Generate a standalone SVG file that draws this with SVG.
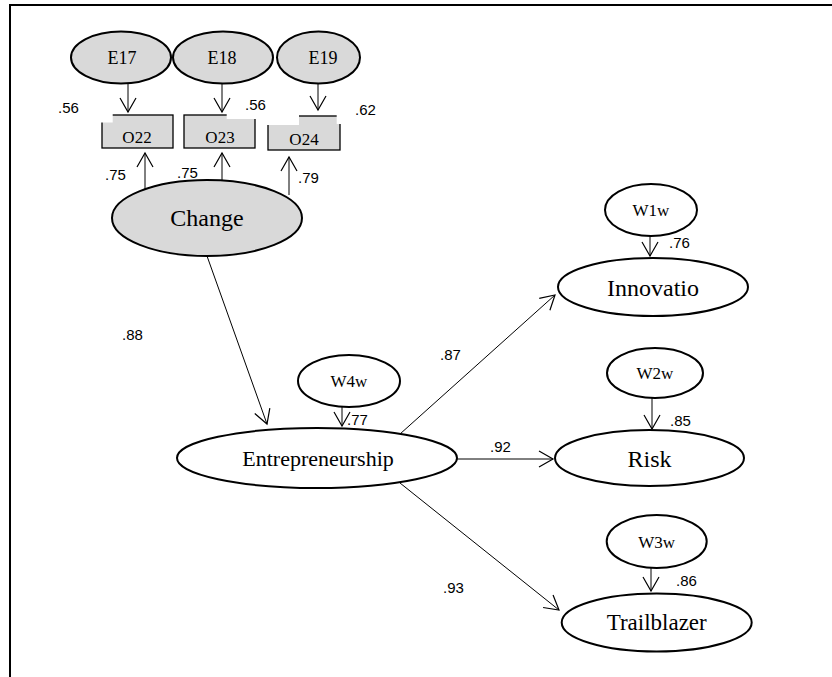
<svg xmlns="http://www.w3.org/2000/svg" width="832" height="677" viewBox="0 0 832 677">
<defs>
<marker id="ah" markerUnits="userSpaceOnUse" markerWidth="18" markerHeight="18" refX="15" refY="8" orient="auto" overflow="visible">
<path d="M1,0 L15,8 L1,16" fill="none" stroke="#000" stroke-width="1.2"/>
</marker>
<style>
.lat{fill:#d9d9d9;stroke:#000;stroke-width:2}
.wht{fill:#fff;stroke:#000;stroke-width:2}
.box{fill:#d9d9d9;stroke:#000;stroke-width:1.3}
.t{font-family:"Liberation Serif","Times New Roman",serif;fill:#000;text-anchor:middle}
.n{font-family:"Liberation Sans",Arial,sans-serif;font-size:15px;fill:#000}
.c{stroke:#000;stroke-width:1;fill:none;marker-end:url(#ah)}
</style>
</defs>
<rect width="832" height="677" fill="#fff"/>
<path d="M10,677 V5 H832" fill="none" stroke="#000" stroke-width="2"/>

<g id="connectors">
<line class="c" x1="128" y1="83" x2="128" y2="112"/>
<line class="c" x1="222" y1="84" x2="222" y2="112"/>
<line class="c" x1="318" y1="83" x2="318" y2="110"/>
<line class="c" x1="145" y1="190" x2="145" y2="153"/>
<line class="c" x1="222" y1="181" x2="222" y2="153"/>
<line class="c" x1="289" y1="195" x2="289" y2="157"/>
<line class="c" x1="207" y1="256" x2="267" y2="424"/>
<line class="c" x1="342" y1="407" x2="342" y2="426"/>
<line class="c" x1="400" y1="434" x2="555" y2="295"/>
<line class="c" x1="457" y1="459" x2="553" y2="459"/>
<line class="c" x1="400" y1="483" x2="559" y2="610"/>
<line class="c" x1="650" y1="236" x2="650" y2="256"/>
<line class="c" x1="652" y1="398" x2="652" y2="429"/>
<line class="c" x1="651" y1="568" x2="651" y2="591"/>
</g>

<g id="E17"><ellipse class="lat" cx="121" cy="57.5" rx="50" ry="26"/><text class="t" x="122" y="64" font-size="18">E17</text></g>
<g id="E18"><ellipse class="lat" cx="223" cy="57.5" rx="50" ry="26"/><text class="t" x="222" y="64" font-size="18">E18</text></g>
<g id="E19"><ellipse class="lat" cx="318.5" cy="57.5" rx="41.5" ry="26"/><text class="t" x="323" y="64" font-size="18">E19</text></g>

<g id="O22"><rect class="box" x="102" y="115" width="71" height="33"/><rect x="100" y="113" width="12.7" height="9.5" fill="#fff"/><text class="t" x="137" y="143" font-size="17">O22</text></g>
<g id="O23"><rect class="box" x="184" y="115" width="71" height="33"/><rect x="226.7" y="113" width="30" height="6" fill="#fff"/><text class="t" x="220" y="143" font-size="17">O23</text></g>
<g id="O24"><rect class="box" x="268" y="116" width="72" height="34"/><rect x="266" y="114" width="33" height="11" fill="#fff"/><rect x="336.7" y="114" width="5" height="10" fill="#fff"/><text class="t" x="304" y="145" font-size="17">O24</text></g>

<g id="Change"><ellipse class="lat" cx="207" cy="218" rx="95" ry="38"/><text class="t" x="207" y="226" font-size="24">Change</text></g>
<g id="W4w"><ellipse class="wht" cx="349" cy="381" rx="51" ry="26"/><text class="t" x="349" y="387" font-size="17">W4w</text></g>
<g id="Entrepreneurship"><ellipse class="wht" cx="317" cy="458" rx="140" ry="30"/><text class="t" x="318" y="466" font-size="22">Entrepreneurship</text></g>
<g id="W1w"><ellipse class="wht" cx="651" cy="210" rx="46" ry="26"/><text class="t" x="651" y="216" font-size="17">W1w</text></g>
<g id="Innovatio"><ellipse class="wht" cx="653" cy="287" rx="95" ry="29"/><text class="t" x="653" y="296" font-size="24">Innovatio</text></g>
<g id="W2w"><ellipse class="wht" cx="655" cy="373" rx="48" ry="25"/><text class="t" x="655" y="379" font-size="17">W2w</text></g>
<g id="Risk"><ellipse class="wht" cx="649.5" cy="458" rx="94.5" ry="28"/><text class="t" x="649.5" y="467" font-size="24">Risk</text></g>
<g id="W3w"><ellipse class="wht" cx="656.7" cy="541.5" rx="50" ry="26.5"/><text class="t" x="656.7" y="547.5" font-size="17">W3w</text></g>
<g id="Trailblazer"><ellipse class="wht" cx="656.7" cy="622.5" rx="95" ry="29"/><text class="t" x="656.7" y="630" font-size="23">Trailblazer</text></g>

<g id="labels">
<text class="n" x="58" y="113">.56</text>
<text class="n" x="245" y="110">.56</text>
<text class="n" x="355" y="115">.62</text>
<text class="n" x="105" y="180">.75</text>
<text class="n" x="177" y="178">.75</text>
<text class="n" x="298" y="183">.79</text>
<text class="n" x="122" y="340">.88</text>
<text class="n" x="347" y="425">.77</text>
<text class="n" x="440" y="360">.87</text>
<text class="n" x="490" y="452">.92</text>
<text class="n" x="443" y="593">.93</text>
<text class="n" x="669" y="248">.76</text>
<text class="n" x="670" y="426">.85</text>
<text class="n" x="676" y="586">.86</text>
</g>
</svg>
